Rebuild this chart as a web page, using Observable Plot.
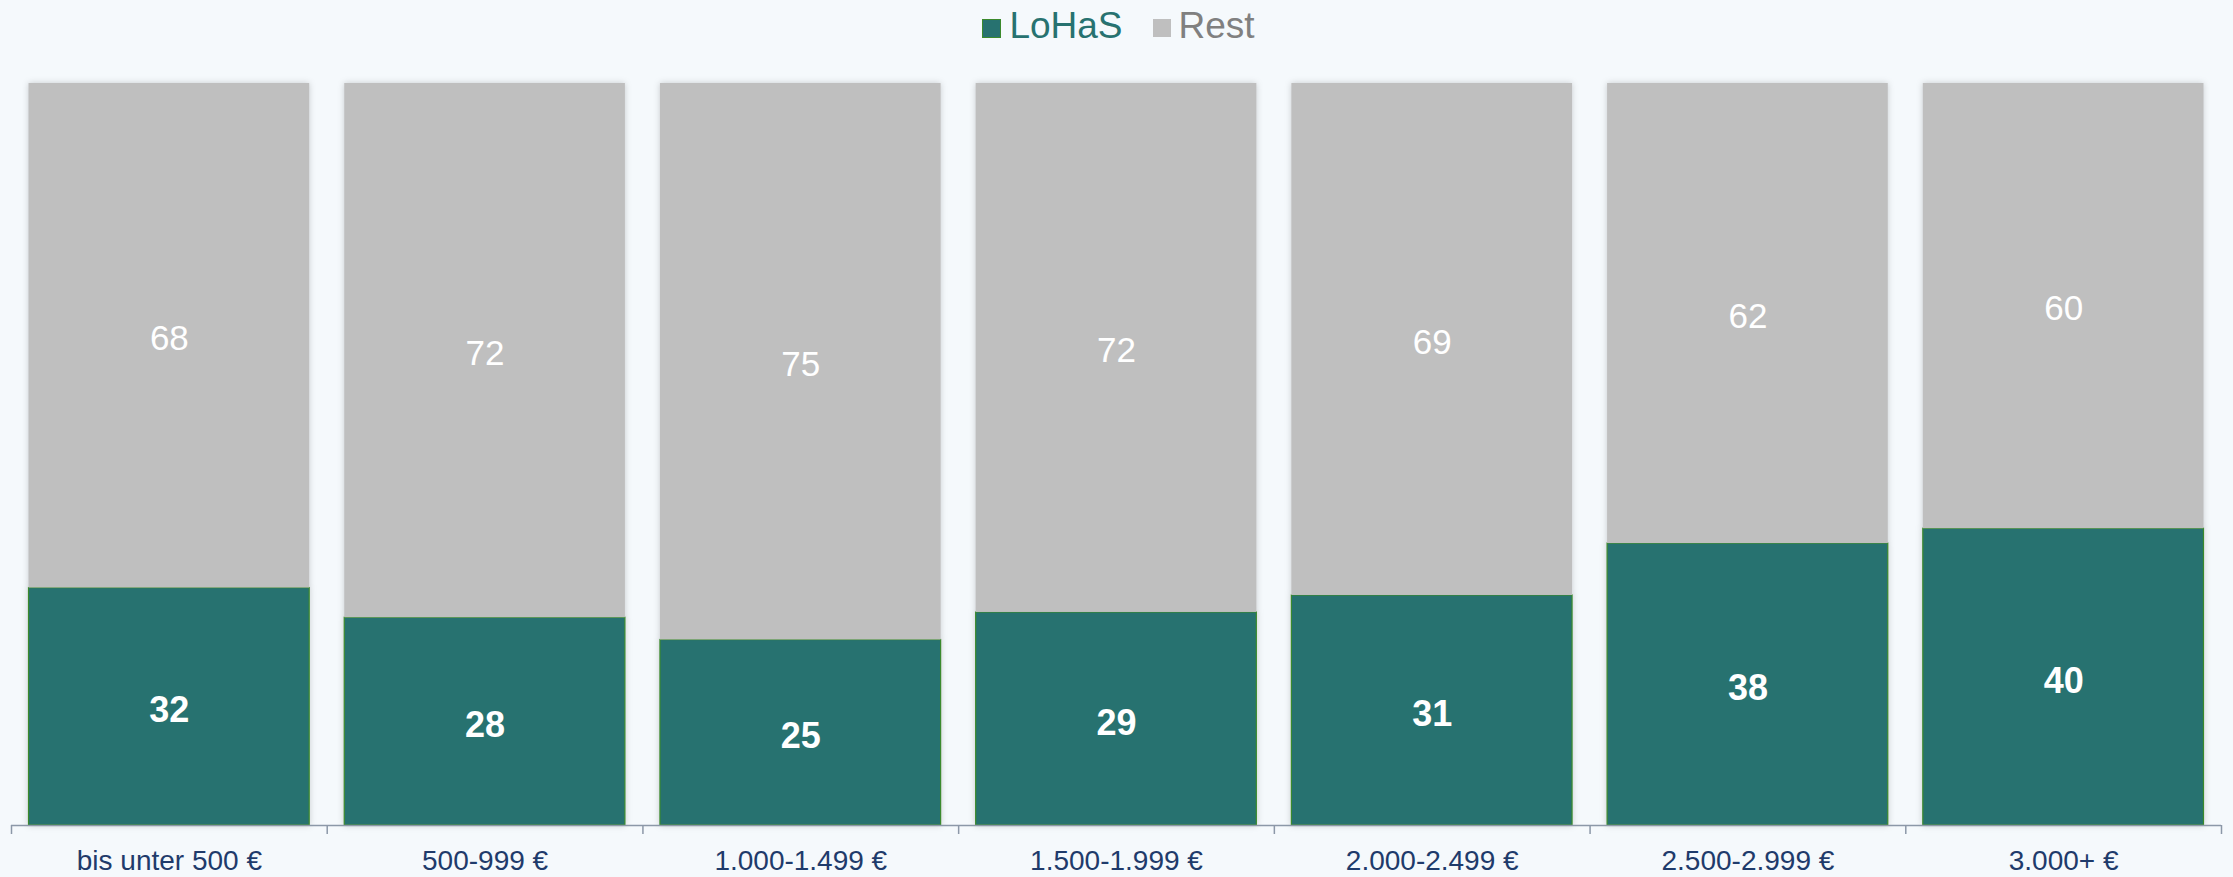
<!DOCTYPE html>
<html>
<head>
<meta charset="utf-8">
<script src="https://cdn.jsdelivr.net/npm/d3@7"></script>
<script src="https://cdn.jsdelivr.net/npm/@observablehq/plot@0.6"></script>
<style>
  html, body { margin: 0; padding: 0; background: #F5F9FC; }
  body { width: 2233px; height: 877px; overflow: hidden; font-family: "Liberation Sans", Arial, sans-serif; }
  #legend { height: 50px; display: flex; justify-content: center; align-items: center; padding-left: 4px; box-sizing: border-box; }
  .item { display: flex; align-items: center; font-size: 37px; line-height: 1; margin: 0 15px; }
  .sw { display: inline-block; margin-right: 8px; margin-top: 6px; }
  #chart svg { display: block; }
  #chart g[aria-label="bar"] { filter: drop-shadow(0 0 3px rgba(0,0,0,0.18)); }
</style>
</head>
<body>
<div id="legend"></div>
<div id="chart"></div>
<script>
// ---- data ----
const categories = ["bis unter 500 €", "500-999 €", "1.000-1.499 €", "1.500-1.999 €", "2.000-2.499 €", "2.500-2.999 €", "3.000+ €"];
const seriesNames = ["LoHaS", "Rest"];
const lohasValues = [32, 28, 25, 29, 31, 38, 40];
const restValues = [68, 72, 75, 72, 69, 62, 60];

// ---- styles ----
const fills = {LoHaS: "#277270", Rest: "#BFBFBF"};
const strokes = {LoHaS: "#3B8A2C", Rest: "none"};
const legendText = {LoHaS: "#277270", Rest: "#808080"};
const axisColor = "#8C98A8";
const labelColor = "#1F3B6B";

const data = categories.flatMap((c, i) => [
  {cat: c, series: "LoHaS", value: lohasValues[i]},
  {cat: c, series: "Rest", value: restValues[i]}
]);

// legend
const legend = document.getElementById("legend");
seriesNames.forEach(s => {
  const it = document.createElement("div");
  it.className = "item";
  const sw = document.createElement("span");
  sw.className = "sw";
  const size = s === "LoHaS" ? 17 : 18;
  sw.style.width = size + "px";
  sw.style.height = size + "px";
  sw.style.background = fills[s];
  if (strokes[s] !== "none") sw.style.border = "1px solid " + strokes[s];
  const tx = document.createElement("span");
  tx.textContent = s;
  tx.style.color = legendText[s];
  it.appendChild(sw); it.appendChild(tx);
  legend.appendChild(it);
});

const W = 2233, H = 827;
const mL = 11, mR = 12, mT = 33, mB = 52;
const pInner = 0.111, pOuter = 0.0555;
const step = (W - mL - mR) / (categories.length - pInner + 2 * pOuter);
const font = "Liberation Sans, Arial, sans-serif";
const stackOpts = {x: "cat", y: "value", z: "series", order: seriesNames, offset: "normalize"};

const chart = Plot.plot({
  width: W,
  height: H,
  marginLeft: mL,
  marginRight: mR,
  marginTop: mT,
  marginBottom: mB,
  style: {background: "transparent", fontFamily: font},
  x: {domain: categories, paddingInner: pInner, paddingOuter: pOuter, round: false, label: null},
  y: {domain: [0, 1], axis: null},
  color: {type: "identity"},
  marks: [
    Plot.barY(data, Plot.stackY({
      ...stackOpts,
      fill: d => fills[d.series],
      stroke: d => strokes[d.series],
      strokeWidth: 1.2
    })),
    Plot.ruleY([0], {stroke: axisColor, strokeWidth: 1.5}),
    Plot.axisX({tickSize: 9, tickFormat: () => "", label: null, stroke: axisColor, strokeWidth: 1.5, dx: -step / 2}),
    Plot.axisX({ticks: [categories[categories.length - 1]], tickSize: 9, tickFormat: () => "", label: null, stroke: axisColor, strokeWidth: 1.5, dx: step / 2}),
    Plot.axisX({tickSize: 0, tickPadding: 25, fontSize: 28, label: null, fill: labelColor, fontFamily: font}),
    Plot.text(data, Plot.stackY({
      ...stackOpts,
      text: d => d.series === "LoHaS" ? String(d.value) : null,
      fill: "white", fontSize: 36, fontWeight: "bold", fontFamily: font, dy: 4
    })),
    Plot.text(data, Plot.stackY({
      ...stackOpts,
      text: d => d.series === "Rest" ? String(d.value) : null,
      fill: "white", fontSize: 35, fontFamily: font, dy: 3
    }))
  ]
});
document.getElementById("chart").appendChild(chart);
</script>
</body>
</html>
